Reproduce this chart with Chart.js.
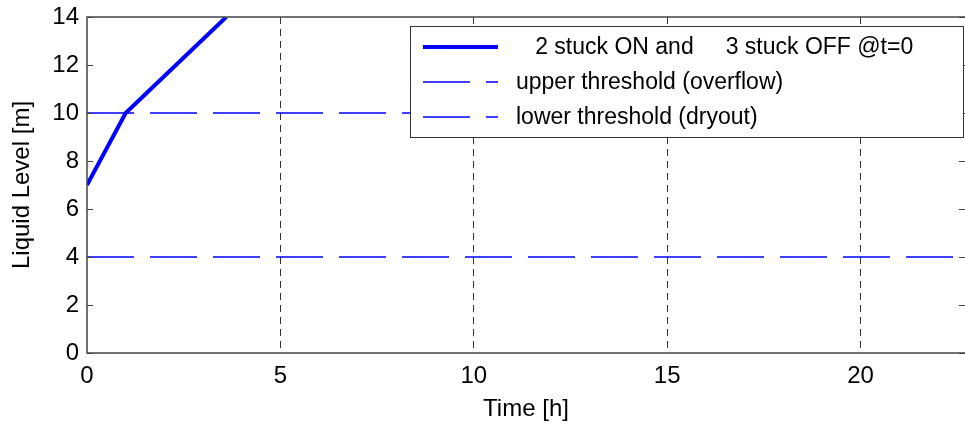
<!DOCTYPE html>
<html>
<head>
<meta charset="utf-8">
<script src="https://cdn.jsdelivr.net/npm/chart.js@4/dist/chart.umd.min.js"></script>
<style>
  html, body { margin: 0; padding: 0; background: #fff; }
  #wrap { width: 965px; height: 429px; position: relative; }
</style>
</head>
<body>
<div id="wrap"><canvas id="chart"></canvas></div>
<script>
// Data
const timeH = [0, 1, 3.6];
const levelM = [7, 10, 14];
const thresholdTime = [0, 22.7];
const upperLevel = [10, 10];
const lowerLevel = [4, 4];
const xTicks = [0, 5, 10, 15, 20];
const yTicks = [0, 2, 4, 6, 8, 10, 12, 14];
const seriesLabels = ['   2 stuck ON and     3 stuck OFF @t=0', 'upper threshold (overflow)', 'lower threshold (dryout)'];

const FONT = 'Liberation Sans, Arial, sans-serif';
const toPoints = (xs, ys) => xs.map((x, i) => ({ x: x, y: ys[i] }));

// MATLAB-like frame with inward ticks
const framePlugin = {
  id: 'frame',
  afterDraw(chart) {
    const { ctx, chartArea: a, scales } = chart;
    ctx.save();
    ctx.strokeStyle = '#444';
    ctx.lineWidth = 1.5;
    ctx.beginPath();
    ctx.moveTo(a.right + 2, a.top);
    ctx.lineTo(a.left, a.top);
    ctx.lineTo(a.left, a.bottom);
    ctx.lineTo(a.right + 2, a.bottom);
    ctx.stroke();
    ctx.lineWidth = 1;
    ctx.beginPath();
    yTicks.forEach(v => {
      const y = Math.round(scales.y.getPixelForValue(v)) + 0.5;
      ctx.moveTo(a.left, y); ctx.lineTo(a.left + 6, y);
      ctx.moveTo(a.right, y); ctx.lineTo(a.right - 6, y);
    });
    ctx.stroke();
    ctx.restore();
  }
};

// legend box drawn top right like the original
const legendPlugin = {
  id: 'boxLegend',
  afterDraw(chart) {
    const { ctx } = chart;
    const left = 410, top = 26, right = 963, bottom = 137;
    ctx.save();
    ctx.fillStyle = '#fff';
    ctx.fillRect(left, top, right - left, bottom - top);
    ctx.strokeStyle = '#333';
    ctx.lineWidth = 1;
    ctx.strokeRect(left + 0.5, top + 0.5, right - left, bottom - top);
    ctx.font = '23px ' + FONT;
    ctx.textBaseline = 'middle';
    ctx.fillStyle = '#000';
    chart.data.datasets.forEach((ds, i) => {
      const y = top + 21 + i * 35;
      ctx.beginPath();
      ctx.strokeStyle = ds.borderColor;
      ctx.lineWidth = ds.borderWidth;
      ctx.setLineDash(ds.borderDash || []);
      ctx.moveTo(423, y);
      ctx.lineTo(498, y);
      ctx.stroke();
      ctx.setLineDash([]);
      ctx.fillText(ds.label, 516, y + 1);
    });
    ctx.restore();
  }
};

new Chart(document.getElementById('chart'), {
  type: 'line',
  data: {
    datasets: [
      {
        label: seriesLabels[0],
        data: toPoints(timeH, levelM),
        borderColor: '#0000ff',
        borderWidth: 4,
        pointRadius: 0,
        tension: 0
      },
      {
        label: seriesLabels[1],
        data: toPoints(thresholdTime, upperLevel),
        borderColor: '#0000ff',
        borderWidth: 1.3,
        borderDash: [47, 16],
        pointRadius: 0
      },
      {
        label: seriesLabels[2],
        data: toPoints(thresholdTime, lowerLevel),
        borderColor: '#0000ff',
        borderWidth: 1.3,
        borderDash: [47, 16],
        pointRadius: 0
      }
    ]
  },
  options: {
    responsive: true,
    maintainAspectRatio: false,
    animation: false,
    layout: { padding: { top: 17, right: 0, left: 0, bottom: 0 } },
    plugins: {
      legend: { display: false },
      tooltip: { enabled: false }
    },
    scales: {
      x: {
        type: 'linear',
        min: 0,
        max: 22.7,
        afterBuildTicks: s => { s.ticks = xTicks.map(v => ({ value: v })); },
        afterFit: s => { s.height = 76; s.paddingLeft = 0; s.paddingRight = 0; },
        ticks: { color: '#000', font: { family: FONT, size: 24 }, padding: 9, maxRotation: 0 },
        grid: {
          drawTicks: false,
          color: ctx => (ctx.tick && ctx.tick.value === 0) ? 'rgba(0,0,0,0)' : '#333',
          lineWidth: 1
        },
        border: { display: false, dash: [7, 5] },
        title: {
          display: true,
          text: 'Time [h]',
          color: '#000',
          font: { family: FONT, size: 24 },
          padding: { top: 0, bottom: 5 }
        }
      },
      y: {
        min: 0,
        max: 14,
        afterBuildTicks: s => { s.ticks = yTicks.map(v => ({ value: v })); },
        afterFit: s => { s.width = 87; s.paddingTop = 0; s.paddingBottom = 0; },
        ticks: { color: '#000', font: { family: FONT, size: 24 }, padding: 8 },
        grid: { display: false, drawTicks: false },
        border: { display: false },
        title: {
          display: true,
          text: 'Liquid Level [m]',
          color: '#000',
          font: { family: FONT, size: 24 },
          padding: { top: 8, bottom: 0 }
        }
      }
    }
  },
  plugins: [framePlugin, legendPlugin]
});
</script>
</body>
</html>
